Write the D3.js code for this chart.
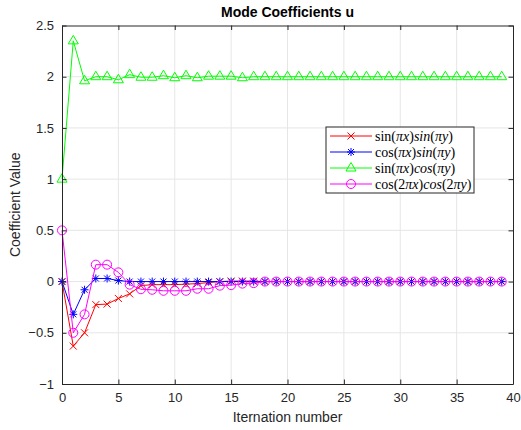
<!DOCTYPE html>
<html>
<head>
<meta charset="utf-8">
<script src="https://cdn.jsdelivr.net/npm/d3@7/dist/d3.min.js"></script>
<style>
  body { margin: 0; background: #fff; }
  text { font-family: "Liberation Sans", Arial, sans-serif; }
</style>
</head>
<body>
<div id="chart"></div>
<script>
/* mode coefficient chart, matlab look */

let iters = d3.range(0, 40);

let sinSin = [0, -0.63, -0.50, -0.225, -0.22, -0.165, -0.12, -0.04, -0.03, -0.03,
    -0.03, -0.025, -0.02, -0.01, 0.0, 0.005, 0.005, 0.005, 0, 0,
    0, 0, 0, 0, 0, 0, 0, 0, 0, 0,
    0, 0, 0, 0, 0, 0, 0, 0, 0, 0];
let cosSin = [0, -0.32, -0.08, 0.03, 0.03, 0.01, 0.0, 0.0, 0.0, 0.0,
    0.0, 0.0, 0.0, 0.0, 0.0, 0.0, 0.0, 0.0, 0.0, 0.0,
    0, 0, 0, 0, 0, 0, 0, 0, 0, 0,
    0, 0, 0, 0, 0, 0, 0, 0, 0, 0];
let sinCos = [1.0, 2.35, 1.96, 2.0, 2.0, 1.97, 2.02, 1.995, 1.995, 2.01,
    1.99, 2.01, 1.99, 2.005, 2.005, 2.005, 1.99, 2.0, 2.0, 2.0,
    2, 2, 2, 2, 2, 2, 2, 2, 2, 2,
    2, 2, 2, 2, 2, 2, 2, 2, 2, 2];
let cos2Cos2 = [0.5, -0.5, -0.32, 0.165, 0.165, 0.09, -0.03, -0.075, -0.08, -0.09,
    -0.09, -0.09, -0.07, -0.07, -0.04, -0.035, -0.02, -0.015, 0, 0,
    0, 0, 0, 0, 0, 0, 0, 0, 0, 0,
    0, 0, 0, 0, 0, 0, 0, 0, 0, 0];

let xTicks = [0, 5, 10, 15, 20, 25, 30, 35, 40];
let yTicks = [-1, -0.5, 0, 0.5, 1, 1.5, 2, 2.5];

// legend labels as [text, italic] pieces
let legendLabels = [
    [["sin(", false], ["πx", true], [")", false], ["sin", true], ["(", false], ["πy", true], [")", false]],
    [["cos(", false], ["πx", true], [")", false], ["sin", true], ["(", false], ["πy", true], [")", false]],
    [["sin(", false], ["πx", true], [")", false], ["cos", true], ["(", false], ["πy", true], [")", false]],
    [["cos(2", false], ["πx", true], [")", false], ["cos", true], ["(2", false], ["πy", true], [")", false]]
];

let series = [
    {values: sinSin, color: "#ff0000", marker: "x"},
    {values: cosSin, color: "#0000ff", marker: "star"},
    {values: sinCos, color: "#00ff00", marker: "tri"},
    {values: cos2Cos2, color: "#ff00ff", marker: "circle"}
];

let width = 521, height = 430;
let margin = {top: 25.5, right: 8, bottom: 46, left: 62};
let axisColor = "#262626";

let svg = d3.select("#chart").append("svg")
    .attr("width", width)
    .attr("height", height);

let x = d3.scaleLinear().domain([0, 40]).range([margin.left, width - margin.right]);
let y = d3.scaleLinear().domain([-1, 2.5]).range([height - margin.bottom, margin.top]);

// grid
let grid = svg.append("g");
grid.selectAll(".gx").data(xTicks.slice(1, -1)).enter().append("line")
    .attr("x1", d => x(d)).attr("x2", d => x(d))
    .attr("y1", y(-1)).attr("y2", y(2.5))
    .attr("stroke", "#e6e6e6").attr("stroke-width", 1);
grid.selectAll(".gy").data(yTicks.slice(1, -1)).enter().append("line")
    .attr("y1", d => y(d)).attr("y2", d => y(d))
    .attr("x1", x(0)).attr("x2", x(40))
    .attr("stroke", "#e6e6e6").attr("stroke-width", 1);

// lines + markers
let drawMarker = function (g, type, color, px, py) {
    if (type === "x") {
        let s = 3.5;
        g.append("path").attr("d", `M${px - s},${py - s}L${px + s},${py + s}M${px - s},${py + s}L${px + s},${py - s}`)
            .attr("stroke", color).attr("fill", "none");
    } else if (type === "star") {
        let s = 4, t = 3;
        g.append("path").attr("d", `M${px - s},${py}L${px + s},${py}M${px},${py - s}L${px},${py + s}` +
            `M${px - t},${py - t}L${px + t},${py + t}M${px - t},${py + t}L${px + t},${py - t}`)
            .attr("stroke", color).attr("fill", "none");
    } else if (type === "tri") {
        g.append("path").attr("d", `M${px},${py - 5.5}L${px + 5},${py + 3}L${px - 5},${py + 3}Z`)
            .attr("stroke", color).attr("fill", "none");
    } else {
        g.append("circle").attr("cx", px).attr("cy", py).attr("r", 4.5)
            .attr("stroke", color).attr("fill", "none");
    }
};

let line = d3.line().x((d, i) => x(iters[i])).y(d => y(d));

series.forEach(function (s) {
    let g = svg.append("g");
    g.append("path").datum(s.values)
        .attr("d", line)
        .attr("fill", "none")
        .attr("stroke", s.color)
        .attr("stroke-width", 1);
    s.values.forEach(function (v, i) {
        drawMarker(g, s.marker, s.color, x(iters[i]), y(v));
    });
});

// axes box with inward ticks
let xAxisB = d3.axisBottom(x).tickValues(xTicks).tickSizeInner(-4.5).tickSizeOuter(0).tickPadding(9);
let xAxisT = d3.axisTop(x).tickValues(xTicks).tickSizeInner(-4.5).tickSizeOuter(0).tickFormat("");
let yAxisL = d3.axisLeft(y).tickValues(yTicks).tickSizeInner(-4.5).tickSizeOuter(0).tickPadding(8).tickFormat(d3.format(""));
let yAxisR = d3.axisRight(y).tickValues(yTicks).tickSizeInner(-4.5).tickSizeOuter(0).tickFormat("");

let styleAxis = function (g) {
    g.selectAll("path").attr("stroke", axisColor);
    g.selectAll("line").attr("stroke", axisColor);
    g.selectAll("text").attr("fill", axisColor).style("font-size", "13px")
        .style("font-family", "'Liberation Sans', Arial, sans-serif");
};

svg.append("g").attr("transform", `translate(0,${y(-1)})`).call(xAxisB).call(styleAxis);
svg.append("g").attr("transform", `translate(0,${y(2.5)})`).call(xAxisT).call(styleAxis);
svg.append("g").attr("transform", `translate(${x(0)},0)`).call(yAxisL).call(styleAxis);
svg.append("g").attr("transform", `translate(${x(40)},0)`).call(yAxisR).call(styleAxis);

// labels
svg.append("text")
    .attr("x", (x(0) + x(40)) / 2).attr("y", 17)
    .attr("text-anchor", "middle")
    .style("font-size", "14px").style("font-weight", "bold")
    .attr("fill", "#000")
    .text("Mode Coefficients u");

svg.append("text")
    .attr("x", (x(0) + x(40)) / 2).attr("y", 422)
    .attr("text-anchor", "middle")
    .style("font-size", "14px")
    .attr("fill", axisColor)
    .text("Iternation number");

svg.append("text")
    .attr("transform", `translate(20,${(y(-1) + y(2.5)) / 2}) rotate(-90)`)
    .attr("text-anchor", "middle")
    .style("font-size", "14px")
    .attr("fill", axisColor)
    .text("Coefficient Value");

// legend
let lg = svg.append("g");
lg.append("rect")
    .attr("x", 326).attr("y", 127).attr("width", 148).attr("height", 66)
    .attr("fill", "#fff").attr("stroke", axisColor).attr("stroke-width", 1);

series.forEach(function (s, i) {
    let ly = 136 + i * 16;
    lg.append("line").attr("x1", 330).attr("x2", 372).attr("y1", ly).attr("y2", ly)
        .attr("stroke", s.color).attr("stroke-width", 1);
    drawMarker(lg, s.marker, s.color, 351, ly);
    let t = lg.append("text").attr("x", 375).attr("y", ly + 4.5)
        .style("font-family", "'Liberation Serif', 'Times New Roman', serif")
        .style("font-size", "14px")
        .attr("fill", "#000");
    legendLabels[i].forEach(function (p) {
        t.append("tspan").style("font-style", p[1] ? "italic" : "normal").text(p[0]);
    });
});
</script>
</body>
</html>
